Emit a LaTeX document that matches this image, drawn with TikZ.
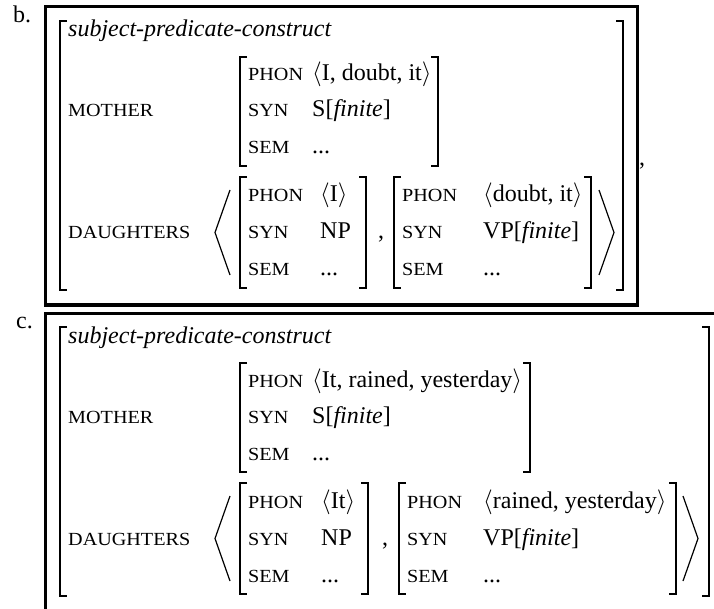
\documentclass[tikz,border=0pt]{standalone}
\usepackage{fontspec}
\usepackage{graphicx}
\setmainfont{Liberation Serif}
\newcommand{\fsc}[1]{\scalebox{1.09}[1]{\fontsize{18.5}{21}\selectfont #1}}
\newcommand{\lbrk}[3]{\draw[brk] (#1+7,#2) -- (#1,#2) -- (#1,#3) -- (#1+7,#3);}
\newcommand{\rbrk}[3]{\draw[brk] (#1-7,#2) -- (#1,#2) -- (#1,#3) -- (#1-7,#3);}
\begin{document}
\begin{tikzpicture}[x=1pt,y=-1pt,
  txt/.style={inner sep=0pt, anchor=base west, font=\fontsize{24}{28}\selectfont},
  brk/.style={line width=1.4pt},
  framebox/.style={line width=3pt},
  ang/.style={line width=1.2pt}]
\useasboundingbox (0,0) rectangle (714,609);
\clip (0,0) rectangle (714,609);

% ---------------- panel b ----------------
\draw[framebox] (45,7) rectangle (637,305);
\node[txt] (blab) at (13,23) {b.};
\lbrk{60}{21}{290}
\rbrk{623}{21}{290}
\node[txt] (btype) at (68,37) {\textit{subject-predicate-construct}};
\node[txt] (bmoth) at (68,117) {\fsc{MOTHER}};
\lbrk{240}{57}{166}
\rbrk{438}{57}{166}
\node[txt] (bmp) at (248,81) {\fsc{PHON}};
\node[txt] (bms) at (248,117) {\fsc{SYN}};
\node[txt] (bme) at (248,154) {\fsc{SEM}};
\node[txt] (bmpv) at (312,81) {$\langle$I, doubt, it$\rangle$};
\node[txt] (bmsv) at (312,117) {S[\textit{finite}]};
\node[txt] (bmev) at (312,154) {...};
\node[txt] (bdau) at (68,239) {\fsc{DAUGHTERS}};
\draw[ang] (230,190) -- (215,232.5) -- (230,275);
% daughter 1
\lbrk{240}{177}{288}
\rbrk{366}{177}{288}
\node[txt] (b1p) at (248,202) {\fsc{PHON}};
\node[txt] (b1s) at (248,239) {\fsc{SYN}};
\node[txt] (b1e) at (248,276) {\fsc{SEM}};
\node[txt] (b1pv) at (320,202) {$\langle$I$\rangle$};
\node[txt] (b1sv) at (320,239) {NP};
\node[txt] (b1ev) at (320,276) {...};
\node[txt] (bcom) at (378,239) {,};
% daughter 2
\lbrk{394}{177}{288}
\rbrk{591}{177}{288}
\node[txt] (b2p) at (402,202) {\fsc{PHON}};
\node[txt] (b2s) at (402,239) {\fsc{SYN}};
\node[txt] (b2e) at (402,276) {\fsc{SEM}};
\node[txt] (b2pv) at (483,202) {$\langle$doubt, it$\rangle$};
\node[txt] (b2sv) at (483,239) {VP[\textit{finite}]};
\node[txt] (b2ev) at (483,276) {...};
\draw[ang] (599,190) -- (614,232.5) -- (599,275);
\node[txt] (bend) at (639,166) {,};

% ---------------- panel c ----------------
\draw[framebox] (45,313) rectangle (740,660);
\node[txt] (clab) at (16,328) {c.};
\lbrk{60}{327}{596}
\rbrk{709}{327}{596}
\node[txt] (ctype) at (68,343) {\textit{subject-predicate-construct}};
\node[txt] (cmoth) at (68,423) {\fsc{MOTHER}};
\lbrk{240}{363}{472}
\rbrk{530}{363}{472}
\node[txt] (cmp) at (248,387) {\fsc{PHON}};
\node[txt] (cms) at (248,423) {\fsc{SYN}};
\node[txt] (cme) at (248,460) {\fsc{SEM}};
\node[txt] (cmpv) at (312,387) {$\langle$It, rained, yesterday$\rangle$};
\node[txt] (cmsv) at (312,423) {S[\textit{finite}]};
\node[txt] (cmev) at (312,460) {...};
\node[txt] (cdau) at (68,545) {\fsc{DAUGHTERS}};
\draw[ang] (230,496) -- (215,538.5) -- (230,581);
% daughter 1
\lbrk{240}{483}{594}
\rbrk{368}{483}{594}
\node[txt] (c1p) at (248,508) {\fsc{PHON}};
\node[txt] (c1s) at (248,545) {\fsc{SYN}};
\node[txt] (c1e) at (248,582) {\fsc{SEM}};
\node[txt] (c1pv) at (321,508) {$\langle$It$\rangle$};
\node[txt] (c1sv) at (321,545) {NP};
\node[txt] (c1ev) at (321,582) {...};
\node[txt] (ccom) at (382,545) {,};
% daughter 2
\lbrk{399}{483}{594}
\rbrk{676}{483}{594}
\node[txt] (c2p) at (407,508) {\fsc{PHON}};
\node[txt] (c2s) at (407,545) {\fsc{SYN}};
\node[txt] (c2e) at (407,582) {\fsc{SEM}};
\node[txt] (c2pv) at (483,508) {$\langle$rained, yesterday$\rangle$};
\node[txt] (c2sv) at (483,545) {VP[\textit{finite}]};
\node[txt] (c2ev) at (483,582) {...};
\draw[ang] (683,496) -- (698,538.5) -- (683,581);
\end{tikzpicture}
\end{document}
